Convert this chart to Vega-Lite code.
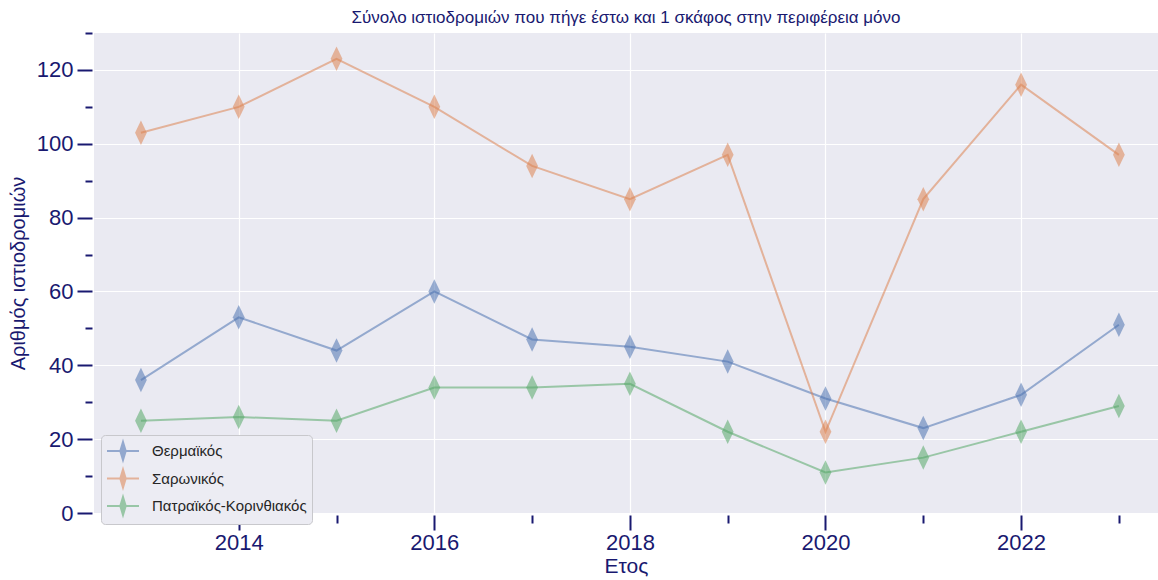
{
  "$schema": "https://vega.github.io/schema/vega-lite/v6.json",
  "autosize": {"type": "none"},
  "width": 1064,
  "height": 480,
  "padding": {"left": 94, "top": 33, "right": 0, "bottom": 67},
  "background": "white",
  "config": {
    "view": {"stroke": null, "fill": "#eaeaf2"},
    "font": "Liberation Sans",
    "title": {"fontSize": 17, "fontWeight": "normal", "color": "#191970", "anchor": "middle", "offset": 5}
  },
  "title": "Σύνολο ιστιοδρομιών που πήγε έστω και 1 σκάφος στην περιφέρεια μόνο",
  "data": {
    "values": [
      {"year": 2013, "series": "Θερμαϊκός", "value": 36},
      {"year": 2014, "series": "Θερμαϊκός", "value": 53},
      {"year": 2015, "series": "Θερμαϊκός", "value": 44},
      {"year": 2016, "series": "Θερμαϊκός", "value": 60},
      {"year": 2017, "series": "Θερμαϊκός", "value": 47},
      {"year": 2018, "series": "Θερμαϊκός", "value": 45},
      {"year": 2019, "series": "Θερμαϊκός", "value": 41},
      {"year": 2020, "series": "Θερμαϊκός", "value": 31},
      {"year": 2021, "series": "Θερμαϊκός", "value": 23},
      {"year": 2022, "series": "Θερμαϊκός", "value": 32},
      {"year": 2023, "series": "Θερμαϊκός", "value": 51},
      {"year": 2013, "series": "Σαρωνικός", "value": 103},
      {"year": 2014, "series": "Σαρωνικός", "value": 110},
      {"year": 2015, "series": "Σαρωνικός", "value": 123},
      {"year": 2016, "series": "Σαρωνικός", "value": 110},
      {"year": 2017, "series": "Σαρωνικός", "value": 94},
      {"year": 2018, "series": "Σαρωνικός", "value": 85},
      {"year": 2019, "series": "Σαρωνικός", "value": 97},
      {"year": 2020, "series": "Σαρωνικός", "value": 22},
      {"year": 2021, "series": "Σαρωνικός", "value": 85},
      {"year": 2022, "series": "Σαρωνικός", "value": 116},
      {"year": 2023, "series": "Σαρωνικός", "value": 97},
      {"year": 2013, "series": "Πατραϊκός-Κορινθιακός", "value": 25},
      {"year": 2014, "series": "Πατραϊκός-Κορινθιακός", "value": 26},
      {"year": 2015, "series": "Πατραϊκός-Κορινθιακός", "value": 25},
      {"year": 2016, "series": "Πατραϊκός-Κορινθιακός", "value": 34},
      {"year": 2017, "series": "Πατραϊκός-Κορινθιακός", "value": 34},
      {"year": 2018, "series": "Πατραϊκός-Κορινθιακός", "value": 35},
      {"year": 2019, "series": "Πατραϊκός-Κορινθιακός", "value": 22},
      {"year": 2020, "series": "Πατραϊκός-Κορινθιακός", "value": 11},
      {"year": 2021, "series": "Πατραϊκός-Κορινθιακός", "value": 15},
      {"year": 2022, "series": "Πατραϊκός-Κορινθιακός", "value": 22},
      {"year": 2023, "series": "Πατραϊκός-Κορινθιακός", "value": 29}
    ]
  },
  "layer": [
    {
      "mark": {"type": "line", "strokeWidth": 2, "opacity": 0.55},
      "encoding": {
        "x": {
          "field": "year", "type": "quantitative",
          "scale": {"domain": [2012.52, 2023.4], "nice": false, "zero": false},
          "axis": {
            "orient": "bottom",
            "values": [2014, 2016, 2018, 2020, 2022],
            "format": "d",
            "title": "Ετος",
            "titleFontSize": 21, "titleFontWeight": "normal", "titleColor": "#191970", "titlePadding": 2,
            "labelFontSize": 22, "labelColor": "#191970", "labelPadding": 2,
            "tickSize": 15, "tickWidth": 2, "tickColor": "#191970", "offset": 2,
            "domain": false,
            "grid": true, "gridColor": "white", "gridWidth": 1.2
          }
        },
        "y": {
          "field": "value", "type": "quantitative",
          "scale": {"domain": [0, 130], "nice": false},
          "axis": {
            "orient": "left",
            "values": [0, 20, 40, 60, 80, 100, 120],
            "title": "Αριθμός ιστιοδρομιών",
            "titleFontSize": 20, "titleFontWeight": "normal", "titleColor": "#191970", "titlePadding": 8,
            "labelFontSize": 22, "labelColor": "#191970", "labelPadding": 4,
            "tickSize": 15, "tickWidth": 2, "tickColor": "#191970", "offset": 2,
            "domain": false,
            "grid": true, "gridColor": "white", "gridWidth": 1.2
          }
        },
        "color": {
          "field": "series", "type": "nominal",
          "scale": {"domain": ["Θερμαϊκός", "Σαρωνικός", "Πατραϊκός-Κορινθιακός"], "range": ["#4c72b0", "#dd8452", "#55a868"]}
        }
      }
    },
    {
      "mark": {"type": "point", "filled": true, "opacity": 0.55, "size": 600, "shape": "M0,-1L0.48,0L0,1L-0.48,0Z"},
      "encoding": {
        "x": {
          "field": "year", "type": "quantitative",
          "scale": {"domain": [2012.52, 2023.4], "nice": false, "zero": false},
          "axis": {
            "orient": "bottom",
            "values": [2013, 2015, 2017, 2019, 2021, 2023],
            "labels": false, "title": null,
            "tickSize": 8, "tickWidth": 2, "tickColor": "#191970", "offset": 2,
            "domain": false, "grid": false
          }
        },
        "y": {
          "field": "value", "type": "quantitative",
          "scale": {"domain": [0, 130], "nice": false},
          "axis": {
            "orient": "left",
            "values": [10, 30, 50, 70, 90, 110, 130],
            "labels": false, "title": null,
            "tickSize": 7, "tickWidth": 2, "tickColor": "#191970", "offset": 2,
            "domain": false, "grid": false
          }
        },
        "color": {
          "field": "series", "type": "nominal",
          "scale": {"domain": ["Θερμαϊκός", "Σαρωνικός", "Πατραϊκός-Κορινθιακός"], "range": ["#4c72b0", "#dd8452", "#55a868"]},
          "legend": {
            "title": null,
            "orient": "none",
            "legendX": 7,
            "legendY": 402,
            "padding": 5,
            "fillColor": "#ececf3",
            "strokeColor": "#c8c8cc",
            "cornerRadius": 4,
            "symbolType": "M-1.6,0L1.6,0M0,-0.9L0.27,0L0,0.9L-0.27,0Z",
            "symbolSize": 400,
            "symbolStrokeWidth": 2,
            "symbolOpacity": 0.55,
            "symbolOffset": 6,
            "labelFontSize": 15,
            "labelColor": "#262626",
            "labelOffset": 18,
            "rowPadding": 1.5
          }
        }
      }
    }
  ],
  "resolve": {"axis": {"x": "independent", "y": "independent"}}
}
